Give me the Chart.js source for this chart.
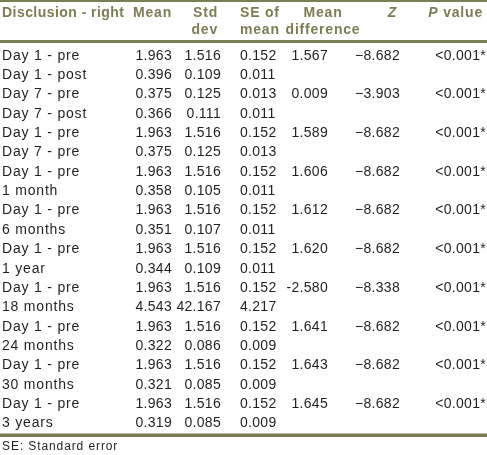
<!DOCTYPE html>
<html>
<head>
<meta charset="utf-8">
<script src="https://cdn.jsdelivr.net/npm/chart.js@4.4.1/dist/chart.umd.min.js"></script>
<style>
html,body{margin:0;padding:0;background:#fff;}
#wrap{width:487px;height:455px;position:relative;}
</style>
</head>
<body>
<div id="wrap"><canvas id="c" width="487" height="455"></canvas></div>
<script>
// ---- data ----
const rowLabels = ["Day 1 - pre","Day 1 - post","Day 7 - pre","Day 7 - post","Day 1 - pre","Day 7 - pre","Day 1 - pre","1 month","Day 1 - pre","6 months","Day 1 - pre","1 year","Day 1 - pre","18 months","Day 1 - pre","24 months","Day 1 - pre","30 months","Day 1 - pre","3 years"];
const meanVals = [1.963,0.396,0.375,0.366,1.963,0.375,1.963,0.358,1.963,0.351,1.963,0.344,1.963,4.543,1.963,0.322,1.963,0.321,1.963,0.319];
const sdVals = [1.516,0.109,0.125,0.111,1.516,0.125,1.516,0.105,1.516,0.107,1.516,0.109,1.516,42.167,1.516,0.086,1.516,0.085,1.516,0.085];
const seVals = [0.152,0.011,0.013,0.011,0.152,0.013,0.152,0.011,0.152,0.011,0.152,0.011,0.152,4.217,0.152,0.009,0.152,0.009,0.152,0.009];
const meanDiffVals = [1.567,null,0.009,null,1.589,null,1.606,null,1.612,null,1.620,null,-2.580,null,1.641,null,1.643,null,1.645,null];
const zVals = [-8.682,null,-3.903,null,-8.682,null,-8.682,null,-8.682,null,-8.682,null,-8.338,null,-8.682,null,-8.682,null,-8.682,null];
const pVals = ["<0.001*",null,"<0.001*",null,"<0.001*",null,"<0.001*",null,"<0.001*",null,"<0.001*",null,"<0.001*",null,"<0.001*",null,"<0.001*",null,"<0.001*",null];
const headerLine1 = ["Disclusion - right","Mean","Std","SE of","Mean","Z","P value"];
const headerLine2 = ["","","dev","mean","difference","",""];
const footnote = "SE: Standard error";

// ---- styling / layout ----
const OLIVE = "#7b7e52";
const TEXT = "#231f20";
const FONT = '"Liberation Sans", Arial, sans-serif';
// column anchors on the x scale (0..487) and alignment
const colX   = [2, 172, 221, 240, 328, 400, 486];
const colAl  = ["left","right","right","left","right","right","right"];
const headX  = [2, 172, 218, 240, 323, 397, 483];
const headAl = ["left","right","right","left","center","right","right"];

const fmt3 = v => v.toFixed(3);
const cellText = [
  i => rowLabels[i],
  i => fmt3(meanVals[i]),
  i => fmt3(sdVals[i]),
  i => fmt3(seVals[i]),
  i => meanDiffVals[i] == null ? "" : fmt3(meanDiffVals[i]),
  i => zVals[i] == null ? "" : fmt3(zVals[i]).replace("-", "\u2212"),
  i => pVals[i] == null ? "" : pVals[i]
];

const tablePlugin = {
  id: "tablePlugin",
  afterDraw(chart) {
    const ctx = chart.ctx;
    const xs = chart.scales.x, ys = chart.scales.y;
    const ca = chart.chartArea;
    ctx.save();
    // rules
    ctx.fillStyle = OLIVE;
    ctx.fillRect(0, 0, 487, 2);
    ctx.fillRect(0, ca.top - 5, 487, 3);
    ctx.fillRect(0, ca.bottom + 1.5, 487, 3.5);
    // header
    ctx.fillStyle = OLIVE;
    ctx.textBaseline = "alphabetic";
    for (let c = 0; c < headerLine1.length; c++) {
      ctx.letterSpacing = c === 0 ? "0.45px" : "0.8px";
      const x = xs.getPixelForValue(headX[c]);
      ctx.textAlign = headAl[c];
      if (c === 5) {
        ctx.font = "italic bold 14px " + FONT;
        ctx.fillText(headerLine1[c], x, 17);
      } else if (c === 6) {
        ctx.font = "bold 14px " + FONT;
        const rest = " value";
        const wRest = ctx.measureText(rest).width;
        ctx.textAlign = "right";
        ctx.fillText(rest, x, 17);
        ctx.font = "italic bold 14px " + FONT;
        ctx.fillText("P", x - wRest, 17);
      } else {
        ctx.font = "bold 14px " + FONT;
        ctx.fillText(headerLine1[c], x, 17);
        if (headerLine2[c]) ctx.fillText(headerLine2[c], x, 34);
      }
    }
    // body
    ctx.fillStyle = TEXT;
    ctx.font = "14px " + FONT;
    for (let i = 0; i < rowLabels.length; i++) {
      const y = ys.getPixelForTick(i) + 5;
      for (let c = 0; c < cellText.length; c++) {
        const t = cellText[c](i);
        if (!t) continue;
        ctx.letterSpacing = c === 0 ? "0.8px" : "0.3px";
        ctx.textAlign = colAl[c];
        ctx.fillText(t, xs.getPixelForValue(colX[c]), y);
      }
    }
    // footnote
    ctx.font = "12px " + FONT;
    ctx.letterSpacing = "0.9px";
    ctx.textAlign = "left";
    ctx.fillText(footnote, 2, ca.bottom + 18);
    ctx.restore();
  }
};

new Chart(document.getElementById("c"), {
  type: "scatter",
  data: { datasets: [{ data: [], showLine: false }] },
  options: {
    responsive: false,
    animation: false,
    layout: { padding: { top: 45, bottom: 23, left: 0, right: 0 } },
    plugins: { legend: { display: false }, tooltip: { enabled: false } },
    scales: {
      x: { type: "linear", min: 0, max: 487, display: false },
      y: { type: "category", labels: rowLabels, offset: true, display: false }
    }
  },
  plugins: [tablePlugin]
});
</script>
</body>
</html>
